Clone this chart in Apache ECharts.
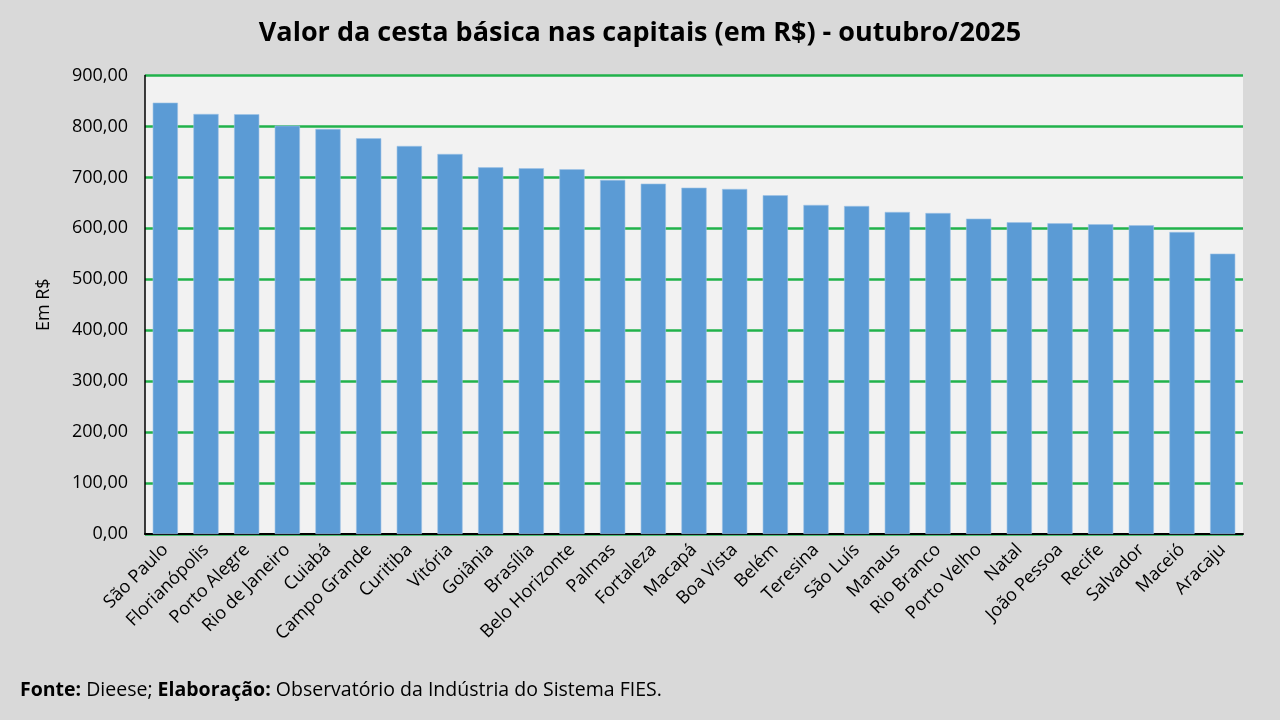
<!DOCTYPE html>
<html>
<head>
<meta charset="utf-8">
<script src="https://cdn.jsdelivr.net/npm/echarts@6/dist/echarts.min.js"></script>
<style>
html,body{margin:0;padding:0;background:#d9d9d9;}
#c{width:1280px;height:720px;}
</style>
</head>
<body>
<div id="c"></div>
<script>
const categories = ["São Paulo","Florianópolis","Porto Alegre","Rio de Janeiro","Cuiabá","Campo Grande","Curitiba","Vitória","Goiânia","Brasília","Belo Horizonte","Palmas","Fortaleza","Macapá","Boa Vista","Belém","Teresina","São Luís","Manaus","Rio Branco","Porto Velho","Natal","João Pessoa","Recife","Salvador","Maceió","Aracaju"];
const values = [846.7,824.5,824.0,801.6,795.0,776.8,761.7,746.0,719.8,717.9,716.0,695.0,687.7,679.8,677.3,664.9,645.9,643.9,632.1,630.1,619.0,611.9,609.9,608.0,606.0,592.9,550.3];
const titleText = "Valor da cesta básica nas capitais (em R$) - outubro/2025";
const yAxisName = "Em R$";

const chart = echarts.init(document.getElementById('c'));
chart.setOption({
  backgroundColor: '#d9d9d9',
  animation: false,
  title: {
    text: titleText,
    left: 'center',
    top: 15,
    textStyle: {fontFamily: 'Open Sans', fontWeight: 'bold', fontSize: 27, color: '#000'}
  },
  graphic: [{
    type: 'text',
    left: 20,
    top: 680,
    style: {
      rich: {
        b: {fontFamily: 'Open Sans', fontWeight: 'bold', fontSize: 19.5, fill: '#000'},
        n: {fontFamily: 'Open Sans', fontSize: 19.5, fill: '#000'}
      },
      text: '{b|Fonte:}{n| Dieese; }{b|Elaboração:}{n| Observatório da Indústria do Sistema FIES.}'
    }
  }],
  grid: {
    left: 145, right: 37, top: 75.5, bottom: 186,
    show: true, backgroundColor: '#f2f2f2', borderWidth: 0
  },
  xAxis: {
    type: 'category',
    data: categories,
    axisLine: {lineStyle: {color: '#000', width: 2}},
    axisTick: {show: false},
    axisLabel: {
      rotate: 45, interval: 0, margin: 13,
      fontFamily: 'Open Sans', fontSize: 18, color: '#000'
    }
  },
  yAxis: {
    type: 'value',
    min: 0, max: 900, interval: 100,
    name: yAxisName,
    nameLocation: 'middle',
    nameRotate: 90,
    nameGap: 92,
    nameTextStyle: {fontFamily: 'Open Sans', fontSize: 18, color: '#000'},
    axisLine: {show: true, lineStyle: {color: '#000', width: 1.5}},
    axisTick: {show: false},
    axisLabel: {
      fontFamily: 'Open Sans', fontSize: 18, color: '#000', margin: 17,
      formatter: v => v.toFixed(2).replace('.', ',')
    },
    splitLine: {lineStyle: {color: '#21b24b', width: 2.5}}
  },
  series: [{
    type: 'bar',
    data: values,
    barCategoryGap: '38%',
    itemStyle: {color: '#5b9bd5', borderColor: '#9dc3e6', borderWidth: 0.6}
  }]
});
</script>
</body>
</html>
